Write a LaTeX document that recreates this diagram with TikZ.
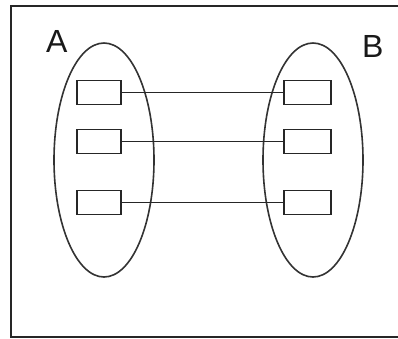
\documentclass[tikz,border=0pt]{standalone}
\usepackage{fontspec}
\setmainfont{Liberation Sans}
\usetikzlibrary{shapes.geometric}
\begin{document}
\begin{tikzpicture}[x=1pt,y=-1pt,
  setshape/.style={draw=black!80,line width=1.6pt,ellipse,minimum width=100pt,minimum height=234pt,inner sep=0pt},
  elem/.style={draw=black!85,line width=1.4pt,rectangle,minimum width=44pt,minimum height=24pt,inner sep=0pt},
  link/.style={draw=black!85,line width=1.2pt},
  setlabel/.style={font=\fontsize{32}{32}\selectfont,text=black!90,inner sep=0pt,anchor=base west}]
  \useasboundingbox (0,0) rectangle (398,338);
  % open frame: left side, top and bottom
  \draw[line width=1.7pt,black!85] (398,6) -- (11,6) -- (11,337) -- (398,337);
  % the two sets
  \node[setshape] (setA) at (104,160) {};
  \node[setshape] (setB) at (313,160) {};
  \node[setlabel] (labA) at (46,52) {A};
  \node[setlabel] (labB) at (362,57) {B};
  % elements of A
  \node[elem] (a1) at (99,92.5) {};
  \node[elem] (a2) at (99,141.5) {};
  \node[elem] (a3) at (99,202.5) {};
  % elements of B
  \node[elem,minimum width=47pt] (b1) at (307.5,92.5) {};
  \node[elem,minimum width=47pt] (b2) at (307.5,141.5) {};
  \node[elem,minimum width=47pt] (b3) at (307.5,202.5) {};
  % mapping
  \draw[link] (a1.east) -- (b1.west);
  \draw[link] (a2.east) -- (b2.west);
  \draw[link] (a3.east) -- (b3.west);
\end{tikzpicture}
\end{document}
